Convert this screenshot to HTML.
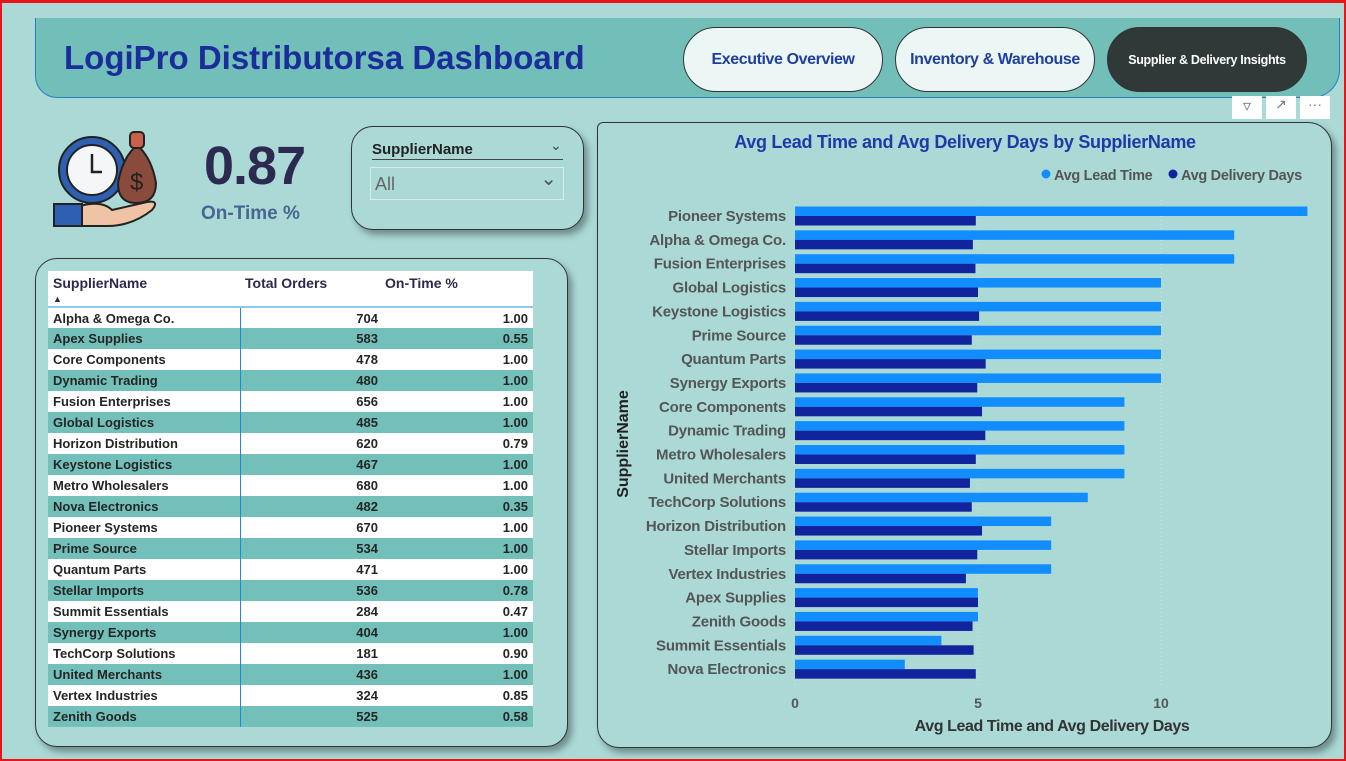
<!DOCTYPE html>
<html><head><meta charset="utf-8">
<style>
*{box-sizing:border-box;margin:0;padding:0}
body{width:1346px;height:761px;overflow:hidden;background:#abd9d6;font-family:"Liberation Sans",sans-serif;position:relative}
.frame{position:absolute;left:0;top:0;width:1346px;height:761px;border:2px solid #e8141a;border-top-width:3px;pointer-events:none}
#header{position:absolute;left:35px;top:18px;width:1305px;height:80px;background:#72bfb9;border:1px solid #2a7fc4;border-top:none;border-radius:0 0 28px 22px}
#title{position:absolute;left:28px;top:21px;font-size:33px;font-weight:bold;color:#1a2d9a}
.btn{position:absolute;top:9px;width:200px;height:65px;border-radius:33px;border:1.5px solid #333;background:#ecf6f4;color:#1f3fa0;font-weight:bold;font-size:16px;display:flex;align-items:center;justify-content:center;white-space:nowrap;letter-spacing:-0.4px}
.btn.active{background:#2f3938;color:#fff;font-size:12.5px;letter-spacing:-0.3px}
.panel{position:absolute;border:1.5px solid #333;border-radius:22px;box-shadow:4px 5px 7px rgba(0,0,0,.35);background:#abd9d6}
table{border-collapse:collapse;position:absolute;left:12px;top:12px;width:485px;font-size:13px;font-weight:bold;color:#252525}
td,th{height:21px;padding:0 5px;white-space:nowrap}
th{background:#fff;height:31px;text-align:left;vertical-align:top;padding-top:5px;color:#2a2a4a;font-size:14px;border-bottom:2px solid #8cc8e8;line-height:14px}
tr:nth-child(odd) td{background:#fff}
tr:nth-child(even) td{background:#72c0b9}
td.n{text-align:right}
td.c1{border-right:1px solid #1e88e5}
</style></head><body>
<div id="header">
 <div id="title">LogiPro Distributorsa Dashboard</div>
 <div class="btn" style="left:647px">Executive Overview</div>
 <div class="btn" style="left:859px">Inventory &amp; Warehouse</div>
 <div class="btn active" style="left:1071px">Supplier &amp; Delivery Insights</div>
</div>

<svg style="position:absolute;left:52px;top:128px" width="110" height="100">
 <circle cx="40" cy="42" r="33" fill="#2e5fb0" stroke="#222" stroke-width="2"/>
 <circle cx="40" cy="42" r="25" fill="#f4f6f8" stroke="#222" stroke-width="2"/>
 <path d="M40 26 V44 H50" stroke="#222" stroke-width="2.5" fill="none"/>
 <path d="M82 20 Q70 32 66 55 Q66 75 84 75 Q104 75 104 55 Q100 32 88 20 Z" fill="#8a4a3c" stroke="#222" stroke-width="2"/>
 <rect x="78" y="4" width="14" height="16" rx="4" fill="#c8604c" stroke="#222" stroke-width="2"/>
 <text x="78" y="62" font-size="24" fill="#222" font-family="Liberation Sans">$</text>
 <path d="M2 78 H28 Q50 72 60 82 L95 74 Q108 72 100 82 Q80 98 55 98 H2 Z" fill="#efc3a4" stroke="#222" stroke-width="2"/>
 <rect x="2" y="76" width="28" height="22" fill="#2e5fb0" stroke="#222" stroke-width="2"/>
</svg>
<div style="position:absolute;left:204px;top:135px;font-size:54px;font-weight:bold;color:#2c2a50;letter-spacing:-1px">0.87</div>
<div style="position:absolute;left:201px;top:203px;font-size:19px;font-weight:bold;color:#4a6690">On-Time %</div>

<div class="panel" style="left:351px;top:126px;width:233px;height:104px">
 <div style="position:absolute;left:20px;top:14px;width:191px;border-bottom:1px solid #444;font-size:15px;font-weight:bold;color:#222;padding-bottom:1px">SupplierName</div>
 <div style="position:absolute;left:198px;top:10px;font-size:14px;color:#444">&#8964;</div>
 <div style="position:absolute;left:18px;top:40px;width:194px;height:33px;border:1px solid #d8ecea;color:#666;font-size:18px;padding:6px 4px">All<span style="position:absolute;right:6px;top:-2px;font-size:20px;color:#555">&#8964;</span></div>
</div>

<div class="panel" style="left:35px;top:258px;width:533px;height:489px">
<table>
<tr><th style="width:192px">SupplierName<br><span style="font-size:9px">&#9650;</span></th><th style="width:140px">Total Orders</th><th>On-Time %</th></tr>
<tbody id="tb"></tbody>
</table>
</div>

<div class="panel" style="left:597px;top:122px;width:735px;height:626px;border-radius:6px 24px 22px 22px"></div>
<div style="position:absolute;left:1232px;top:96px;width:30px;height:23px;background:#fff;text-align:center;color:#777;font-size:16px">&#9663;</div>
<div style="position:absolute;left:1266px;top:96px;width:30px;height:23px;background:#fff;text-align:center;color:#777;font-size:14px">&#8599;</div>
<div style="position:absolute;left:1300px;top:96px;width:30px;height:23px;background:#fff;text-align:center;color:#777;font-size:14px">&middot;&middot;&middot;</div>

<svg id="chart" style="position:absolute;left:0;top:0" width="1346" height="761"></svg>
<div class="frame"></div>

<script>
const tSuppliers=["Alpha & Omega Co.","Apex Supplies","Core Components","Dynamic Trading","Fusion Enterprises","Global Logistics","Horizon Distribution","Keystone Logistics","Metro Wholesalers","Nova Electronics","Pioneer Systems","Prime Source","Quantum Parts","Stellar Imports","Summit Essentials","Synergy Exports","TechCorp Solutions","United Merchants","Vertex Industries","Zenith Goods"];
const tOrders=[704,583,478,480,656,485,620,467,680,482,670,534,471,536,284,404,181,436,324,525];
const tOnTime=[1.00,0.55,1.00,1.00,1.00,1.00,0.79,1.00,1.00,0.35,1.00,1.00,1.00,0.78,0.47,1.00,0.90,1.00,0.85,0.58];

const categories=["Pioneer Systems","Alpha & Omega Co.","Fusion Enterprises","Global Logistics","Keystone Logistics","Prime Source","Quantum Parts","Synergy Exports","Core Components","Dynamic Trading","Metro Wholesalers","United Merchants","TechCorp Solutions","Horizon Distribution","Stellar Imports","Vertex Industries","Apex Supplies","Zenith Goods","Summit Essentials","Nova Electronics"];
const leadTime=[14,12,12,10,10,10,10,10,9,9,9,9,8,7,7,7,5,5,4,3];
const deliveryDays=[4.94,4.86,4.93,5.0,5.03,4.83,5.21,4.98,5.11,5.2,4.94,4.78,4.83,5.11,4.98,4.67,5.0,4.85,4.88,4.94];
const xTicks=[0,5,10];

const tb=document.getElementById('tb');
tSuppliers.forEach((s,i)=>{
 const tr=document.createElement('tr');
 
 
 tr.innerHTML='<td class="c1"></td><td class="n" style="padding-right:2px">'+tOrders[i]+'</td><td class="n">'+tOnTime[i].toFixed(2)+'</td>';
 tr.firstChild.textContent=s;
 tb.appendChild(tr);
});

const NS='http://www.w3.org/2000/svg';
const svg=document.getElementById('chart');
const x0=795,pxPerUnit=36.6,y0=205,band=23.85,bh=9.5;
const xs=v=>x0+v*pxPerUnit;
const ys=i=>y0+i*band;
function el(tag,attrs,text){const e=document.createElementNS(NS,tag);for(const k in attrs)e.setAttribute(k,attrs[k]);if(text!==undefined)e.textContent=text;svg.appendChild(e);return e;}
const F='"Liberation Sans",sans-serif';
let t=el('text',{x:965,y:148,'text-anchor':'middle','font-size':18,'font-weight':'bold',fill:'#1f3aa6','font-family':F,'letter-spacing':'-0.3'},'Avg Lead Time and Avg Delivery Days by SupplierName');


let c=el('circle',{cx:1046,cy:174,r:4.5,fill:'#118dff'});


t=el('text',{x:1054,y:180,'font-size':14.5,'font-weight':'bold',fill:'#555','font-family':F,'letter-spacing':'-0.3'},'Avg Lead Time');


c=el('circle',{cx:1173,cy:174,r:4.5,fill:'#12239e'});


t=el('text',{x:1181,y:180,'font-size':14.5,'font-weight':'bold',fill:'#555','font-family':F,'letter-spacing':'-0.3'},'Avg Delivery Days');


xTicks.forEach(v=>{
 const g=el('line',{x1:xs(v),x2:xs(v),y1:200,y2:685,stroke:'#c9e6e4','stroke-dasharray':'1,3'});
 
 
 const tk=el('text',{x:xs(v),y:708,'text-anchor':'middle','font-size':14,'font-weight':'bold',fill:'#555','font-family':F},v);
 
 
});
categories.forEach((name,i)=>{
 const y=ys(i);
 const lb=el('text',{x:786,y:y+16,'text-anchor':'end','font-size':15,'font-weight':'bold',fill:'#555','font-family':F,'letter-spacing':'-0.2'},name);
 
 
 const b1=el('rect',{x:x0,y:y+1.5,width:xs(leadTime[i])-x0,height:bh,fill:'#118dff'});
 
 
 const b2=el('rect',{x:x0,y:y+1.5+bh,width:xs(deliveryDays[i])-x0,height:bh,fill:'#12239e'});
 
 
});
t=el('text',{x:1052,y:731,'text-anchor':'middle','font-size':16,'font-weight':'bold',fill:'#333','font-family':F,'letter-spacing':'-0.4'},'Avg Lead Time and Avg Delivery Days');


t=el('text',{x:628,y:444,'text-anchor':'middle','font-size':16,'font-weight':'bold',fill:'#222','font-family':F,transform:'rotate(-90 628 444)'},'SupplierName');


</script>
</body></html>
